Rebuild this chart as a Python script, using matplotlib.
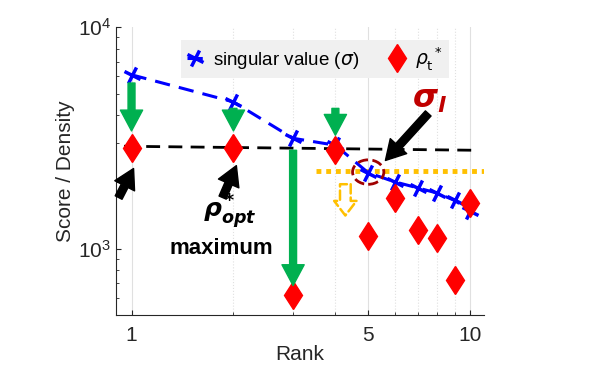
import numpy as np
import matplotlib
import matplotlib.pyplot as plt
from matplotlib.markers import MarkerStyle
from matplotlib.transforms import Affine2D
from matplotlib.patches import Ellipse
from matplotlib.ticker import FixedLocator, FixedFormatter, NullFormatter

plt.rcParams['font.family'] = ['Liberation Sans', 'DejaVu Sans']
plt.rcParams['mathtext.fontset'] = 'dejavusans'

# data
rank = np.arange(1, 11)
sigma = [6100, 4600, 3150, 2930, 2200, 2000, 1880, 1780, 1650, 1480]
rho_t = [2850, 2850, 615, 2800, 1135, 1690, 1210, 1110, 720, 1600]
ref_x = [0.95, 10.5]
ref_y = [2900, 2780]
sigma_l = 2230

fig = plt.figure(figsize=(5.89, 3.90), dpi=100)
ax = fig.add_axes([0.197, 0.192, 0.625, 0.738])

mk = MarkerStyle('+', transform=Affine2D().rotate_deg(-25))
dia = MarkerStyle('D', transform=Affine2D().scale(0.72, 1.1))
ax.plot(rank, sigma, ls=(0, (5, 3)), color='#0000ff', lw=2.2, marker=mk,
        ms=12, mew=2.5, label=r'singular value ($\sigma$)', zorder=3)
ax.plot(rank, rho_t, ls='none', marker=dia, color='#ff0000', ms=12.5,
        label=r'$\rho_{\rm t}^{\ *}$', zorder=4)
ax.plot(ref_x, ref_y, ls=(0, (5, 3)), color='black', lw=2, zorder=2)
ax.plot([3.5, 11], [sigma_l, sigma_l], ls=(0, (1, 1)), color='#ffc000', lw=3.5, zorder=2)

ax.set_xscale('log')
ax.set_yscale('log')
ax.set_xlim(0.9, 11)
ax.set_ylim(500, 10000)
ax.xaxis.set_major_locator(FixedLocator([1, 5, 10]))
ax.xaxis.set_minor_locator(FixedLocator([2, 3, 4, 6, 7, 8, 9]))
ax.xaxis.set_major_formatter(FixedFormatter(['1', '5', '10']))
ax.xaxis.set_minor_formatter(NullFormatter())
ax.grid(True, axis='x', which='major', color='#e0e0e0', lw=0.8)
ax.grid(True, axis='x', which='minor', color='#e0e0e0', lw=0.8, ls=':')
ax.tick_params(which='both', direction='in', labelsize=15, colors='#262626')
ax.tick_params(axis='x', which='major', pad=8)
for s in ['top', 'right']:
    ax.spines[s].set_visible(False)
for s in ['left', 'bottom']:
    ax.spines[s].set_color('#262626')
ax.set_xlabel('Rank', fontsize=15, color='#262626', labelpad=0)
ax.set_ylabel('Score / Density', fontsize=15, color='#262626', labelpad=2)

leg = ax.legend(loc='upper center', ncol=2, fontsize=13.5, frameon=True,
                facecolor='#f0f0f0', edgecolor='none', framealpha=1,
                bbox_to_anchor=(0.54, 0.99), handlelength=0.9, columnspacing=1.6,
                handletextpad=0.5, fancybox=False, borderpad=0.3)

# green arrows
green = dict(color='#00b050', width=5, headwidth=16, headlength=15, shrink=0)
for x, y0, y1 in [(1, 5600, 3400), (2, 4300, 3400), (3, 2780, 680), (4, 4300, 3250)]:
    ax.annotate('', xy=(x, y1), xytext=(x, y0), arrowprops=green, zorder=5)

# black arrows
blk = dict(color='black', width=5.5, headwidth=16, headlength=14, shrink=0)
ax.annotate('', xy=(1.014, 2300), xytext=(0.916, 1700), arrowprops=blk)
ax.annotate('', xy=(2.04, 2370), xytext=(1.857, 1700), arrowprops=blk)
ax.annotate('', xy=(5.62, 2500), xytext=(7.52, 4080), arrowprops=blk)

# hollow orange arrow
ax.annotate('', xy=(4.28, 1370), xytext=(4.28, 2010),
            arrowprops=dict(arrowstyle='simple,head_width=1.15,head_length=0.75,tail_width=0.55',
                            mutation_scale=14, fc='white', ec='#ffc000', ls='--', lw=1.8))

ax.add_patch(Ellipse((0.685, 0.497), 0.085, 0.085, transform=ax.transAxes,
                     fill=False, ec='#a00000', ls='--', lw=2, zorder=6))

ax.text(7.6, 4700, r'$\mathbfit{\sigma_l}$', color='#c00000', fontsize=23,
        ha='center', va='center')
ax.text(1.95, 1470, r'$\mathbfit{\rho^*_{opt}}$', color='black', fontsize=18,
        ha='center', va='center')
ax.text(1.84, 1000, 'maximum', color='black', fontsize=16, fontweight='bold',
        ha='center', va='center')

fig.savefig('out.png', dpi=100)
